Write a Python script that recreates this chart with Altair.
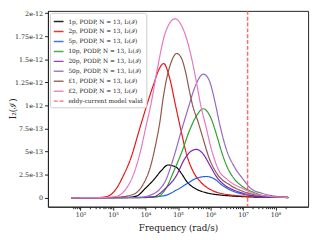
import altair as alt
import pandas as pd

# ---- data (log10 frequency, I2 in units of 1e-12) ----
series_names = [
    "1p, PODP, N = 13, I₂(ℐ)",
    "2p, PODP, N = 13, I₂(ℐ)",
    "5p, PODP, N = 13, I₂(ℐ)",
    "10p, PODP, N = 13, I₂(ℐ)",
    "20p, PODP, N = 13, I₂(ℐ)",
    "50p, PODP, N = 13, I₂(ℐ)",
    "£1, PODP, N = 13, I₂(ℐ)",
    "£2, PODP, N = 13, I₂(ℐ)",
]
eddy_name = "eddy-current model valid"

logf_1p = [1.71, 3.0, 3.49, 3.74, 3.99, 4.24, 4.49, 4.69, 4.95, 5.11, 5.28, 5.53, 5.86, 6.28, 6.61, 7.49, 8.39]
val_1p = [0, 0.002, 0.005, 0.02, 0.10, 0.19, 0.295, 0.355, 0.33, 0.26, 0.17, 0.10, 0.055, 0.03, 0.02, 0.006, 0.002]

logf_2p = [1.71, 2.5, 2.81, 3.07, 3.32, 3.57, 3.78, 3.99, 4.24, 4.44, 4.56, 4.74, 4.93, 5.11, 5.28, 5.45, 5.70, 6.03, 6.61, 7.49, 8.39]
val_2p = [0, 0.002, 0.013, 0.083, 0.24, 0.45, 0.70, 0.947, 1.22, 1.41, 1.455, 1.30, 0.99, 0.70, 0.45, 0.295, 0.17, 0.083, 0.03, 0.01, 0.003]

logf_5p = [1.71, 3.74, 4.24, 4.61, 4.95, 5.28, 5.53, 5.86, 6.11, 6.36, 6.61, 6.99, 7.49, 8.39]
val_5p = [0, 0.003, 0.01, 0.025, 0.083, 0.153, 0.206, 0.23, 0.206, 0.135, 0.083, 0.04, 0.012, 0.002]

logf_10p = [1.71, 4.0, 4.36, 4.66, 4.86, 5.11, 5.36, 5.57, 5.78, 5.99, 6.20, 6.32, 6.49, 6.74, 6.99, 7.32, 7.74, 8.39]
val_10p = [0, 0.002, 0.01, 0.12, 0.28, 0.49, 0.735, 0.89, 0.965, 0.88, 0.665, 0.52, 0.35, 0.20, 0.12, 0.06, 0.015, 0.003]

logf_20p = [1.71, 3.8, 4.24, 4.61, 4.95, 5.20, 5.41, 5.57, 5.78, 5.99, 6.20, 6.44, 6.61, 6.99, 7.49, 8.39]
val_20p = [0, 0.002, 0.01, 0.10, 0.24, 0.42, 0.507, 0.524, 0.47, 0.345, 0.22, 0.135, 0.10, 0.05, 0.015, 0.003]

logf_50p = [1.71, 3.8, 4.16, 4.41, 4.61, 4.86, 5.11, 5.32, 5.53, 5.78, 5.95, 6.07, 6.16, 6.28, 6.49, 6.74, 6.99, 7.24, 7.57, 8.39]
val_50p = [0, 0.003, 0.03, 0.083, 0.18, 0.43, 0.735, 0.98, 1.21, 1.34, 1.28, 1.14, 1.0, 0.80, 0.52, 0.33, 0.206, 0.10, 0.05, 0.003]

logf_L1 = [1.71, 3.0, 3.57, 3.91, 4.16, 4.32, 4.45, 4.53, 4.61, 4.78, 4.96, 5.11, 5.24, 5.36, 5.45, 5.61, 5.78, 5.95, 6.20, 6.61, 6.99, 7.49, 8.39]
val_L1 = [0, 0.003, 0.03, 0.135, 0.347, 0.59, 0.84, 1.05, 1.22, 1.46, 1.564, 1.51, 1.35, 1.14, 1.0, 0.83, 0.63, 0.435, 0.26, 0.135, 0.07, 0.025, 0.003]

logf_L2 = [1.71, 2.6, 3.07, 3.41, 3.66, 3.86, 4.03, 4.16, 4.36, 4.61, 4.91, 5.11, 5.28, 5.45, 5.57, 5.70, 5.86, 6.03, 6.28, 6.49, 6.61, 6.99, 7.49, 8.39]
val_L2 = [0, 0.002, 0.013, 0.10, 0.28, 0.525, 0.80, 1.0, 1.39, 1.79, 1.94, 1.865, 1.705, 1.46, 1.245, 1.0, 0.77, 0.52, 0.28, 0.206, 0.17, 0.10, 0.03, 0.003]

eddy_limit = 1.38e7

colors = ["#000000", "#ee1111", "#2060e0", "#2ca02c", "#8020b0", "#9467bd", "#8c564b", "#e377c2", "#ff5050"]

y_ticks = [0, 0.25e-12, 0.5e-12, 0.75e-12, 1.0e-12, 1.25e-12, 1.5e-12, 1.75e-12, 2.0e-12]
x_ticks = [m * 10 ** k for k in range(1, 9) for m in range(1, 10) if 10 ** 1.71 <= m * 10 ** k <= 10 ** 8.39]

# ---- build table ----
all_logf = [logf_1p, logf_2p, logf_5p, logf_10p, logf_20p, logf_50p, logf_L1, logf_L2]
all_vals = [val_1p, val_2p, val_5p, val_10p, val_20p, val_50p, val_L1, val_L2]
rows = []
for name, lf, vv in zip(series_names, all_logf, all_vals):
    for a, b in zip(lf, vv):
        rows.append({"series": name, "freq": 10 ** a, "I2": b * 1e-12})
df = pd.DataFrame(rows)
rule_df = pd.DataFrame({"series": [eddy_name], "freq": [eddy_limit]})

domain_names = series_names + [eddy_name]
dash_range = [[1, 0]] * len(series_names) + [[4, 2]]

color_scale = alt.Scale(domain=domain_names, range=colors)
dash_scale = alt.Scale(domain=domain_names, range=dash_range)

is_major = "abs(log(datum.value)/LN10 - round(log(datum.value)/LN10)) < 0.001"
sup = "['⁰','¹','²','³','⁴','⁵','⁶','⁷','⁸','⁹']"

x_enc = alt.X(
    "freq:Q",
    scale=alt.Scale(type="log", domain=[10 ** 1.71, 10 ** 8.39]),
    axis=alt.Axis(
        values=x_ticks,
        title="Frequency (rad/s)",
        labelExpr=f"({is_major}) ? '10' + {sup}[round(log(datum.value)/LN10)] : ''",
        tickSize={"condition": {"test": is_major, "value": 3.5}, "value": 2},
        labelOverlap=False,
        labelFlush=False,
        grid=False,
    ),
)
y_enc = alt.Y(
    "I2:Q",
    scale=alt.Scale(domain=[-0.0975e-12, 2.026e-12], nice=False, zero=False),
    axis=alt.Axis(
        values=y_ticks,
        title="I₂(ℐ)",
        labelExpr="datum.value == 0 ? '0' : format(datum.value, '~e')",
        tickSize=3.5,
        grid=False,
        titleX=-36,
        titleY=100,
        titleAngle=270,
        titleAlign="center",
        titleBaseline="middle",
    ),
)

legend = alt.Legend(title=None)

lines = alt.Chart(df).mark_line(strokeWidth=1.2, interpolate="monotone", clip=True).encode(
    x=x_enc,
    y=y_enc,
    color=alt.Color("series:N", scale=color_scale, legend=legend, sort=domain_names),
    strokeDash=alt.StrokeDash("series:N", scale=dash_scale, legend=legend, sort=domain_names),
)

rule = alt.Chart(rule_df).mark_rule(strokeWidth=1.5, opacity=0.85).encode(
    x=alt.X("freq:Q"),
    color=alt.Color("series:N", scale=color_scale, legend=legend, sort=domain_names),
    strokeDash=alt.StrokeDash("series:N", scale=dash_scale, legend=legend, sort=domain_names),
)

chart = (
    alt.layer(lines, rule)
    .properties(
        width=267,
        height=201,
        autosize=alt.AutoSizeParams(type="none"),
        padding={"left": 41, "top": 0, "right": 4, "bottom": 24},
    )
    .configure_view(stroke="#222222", strokeWidth=1)
    .configure_axis(
        labelFont="DejaVu Serif",
        labelFontSize=6.5,
        labelColor="#222222",
        titleFont="DejaVu Serif",
        titleFontSize=9,
        titleFontWeight="normal",
        titleColor="#222222",
        domainColor="#222222",
        tickColor="#222222",
        labelPadding=2,
    )
    .configure_axisX(titlePadding=5)
    .configure_legend(
        orient="none",
        legendX=2,
        legendY=2,
        fillColor="rgba(255,255,255,0.85)",
        strokeColor="#cccccc",
        cornerRadius=2,
        padding=3,
        labelFont="DejaVu Serif",
        labelFontSize=6,
        labelColor="#222222",
        labelLimit=300,
        labelOffset=4,
        symbolType="stroke",
        symbolSize=100,
        symbolStrokeWidth=1.5,
        rowPadding=1.2,
    )
)

chart.save("out.html", embed_options={"renderer": "svg", "actions": False})
